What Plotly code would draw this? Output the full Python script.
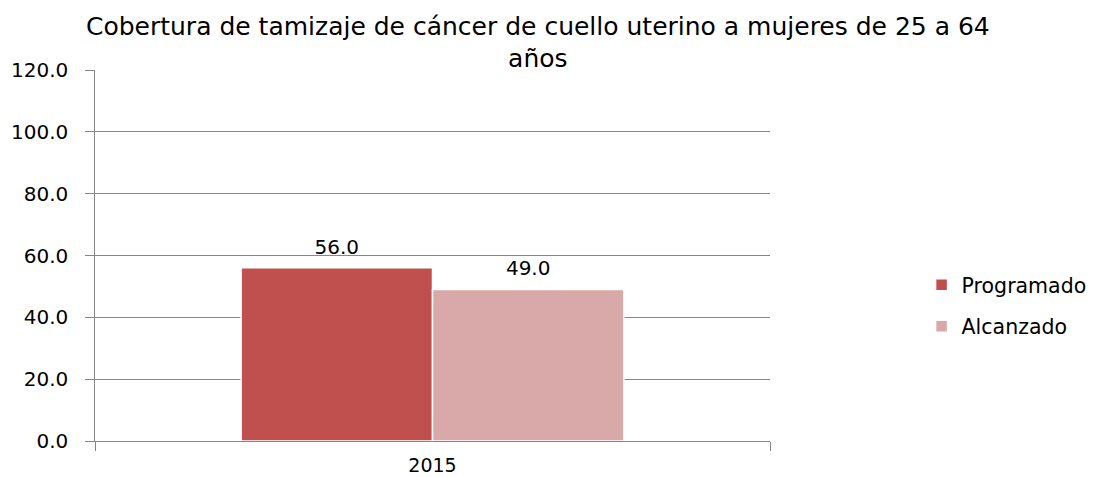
import plotly.graph_objects as go

categories = ["2015"]
programado = [56.0]
alcanzado = [49.0]
y_ticks = [0, 20, 40, 60, 80, 100, 120]
y_tick_labels = ["0.0", "20.0", "40.0", "60.0", "80.0", "100.0", "120.0"]

font_family = "DejaVu Sans"

W, H = 1088, 469
ML, MR, MT, MB = 87, 326, 62, 36
BARGAP = 0.433

fig = go.Figure()
fig.add_trace(go.Bar(
    name="Programado", x=categories, y=programado, legendgroup="a", offsetgroup="a",
    marker=dict(color="#C0504D", line=dict(color="white", width=1.5)),
))
fig.add_trace(go.Bar(
    name="Alcanzado", x=categories, y=alcanzado, legendgroup="b", offsetgroup="b",
    marker=dict(color="#D9A9AA", line=dict(color="white", width=1.5)),
))
for name, vals in (("a", programado), ("b", alcanzado)):
    fig.add_trace(go.Scatter(
        x=categories, y=vals, mode="markers+text", offsetgroup=name,
        text=[f"{v:.1f}" for v in vals], textposition="top center",
        marker=dict(size=13, opacity=0, color="white"),
        textfont=dict(size=20, family=font_family, color="black"),
        showlegend=False, hoverinfo="skip", cliponaxis=False,
    ))

pad = "\u00a0" * 2
fig.update_layout(
    width=W, height=H,
    paper_bgcolor="white", plot_bgcolor="white",
    margin=dict(l=ML, r=MR, t=MT, b=MB),
    barmode="group", bargap=BARGAP, bargroupgap=0,
    scattermode="group", scattergap=BARGAP,
    font=dict(family=font_family, size=19, color="black"),
    title=dict(
        text="Cobertura de tamizaje de cáncer de cuello uterino a mujeres de 25 a 64<br>años",
        x=0.487, xanchor="center", xref="container",
        y=0.943, yanchor="middle", yref="container",
        font=dict(size=25, family=font_family, color="black"),
    ),
    legend=dict(
        x=0.8397, xanchor="left", xref="container",
        y=0.365, yanchor="middle", yref="container",
        font=dict(size=20.5, family=font_family),
        itemwidth=30, traceorder="grouped", tracegroupgap=12,
    ),
    showlegend=True,
)
fig.update_xaxes(
    type="category", range=[-0.5, 0.5],
    showline=True, linecolor="#868686", linewidth=1,
    ticks="outside", tickson="boundaries", ticklen=9, tickcolor="#868686",
    tickfont=dict(size=19), showgrid=False, automargin=False,
    ticklabelstandoff=7,
)
fig.update_yaxes(
    range=[0, 120], tickvals=y_ticks, ticktext=[t + pad for t in y_tick_labels],
    showline=True, linecolor="#868686", linewidth=1,
    ticks="outside", ticklen=9, tickcolor="#868686",
    showgrid=True, gridcolor="#868686", gridwidth=1,
    tickfont=dict(size=20), zeroline=False, automargin=False,
)

fig.write_html("out.html")
